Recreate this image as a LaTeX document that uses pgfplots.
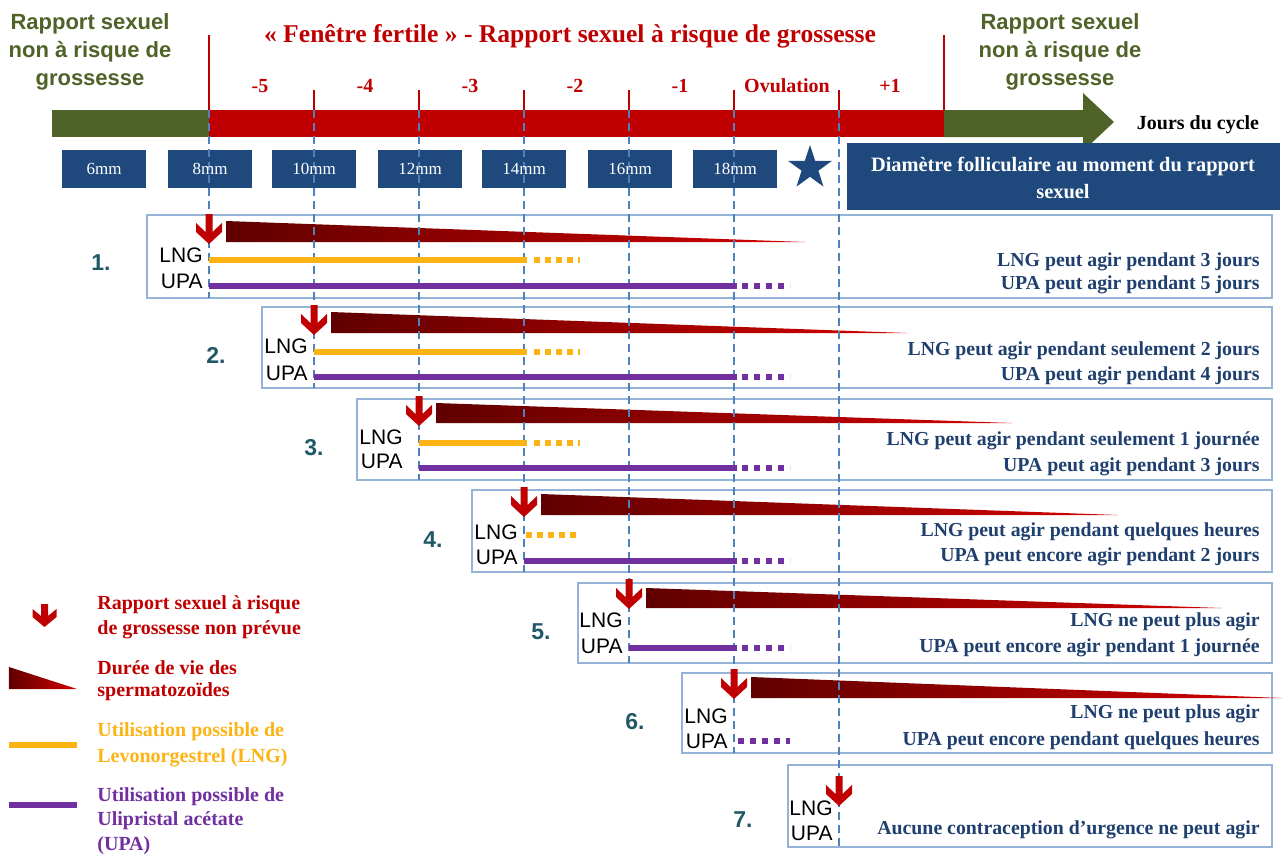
\documentclass[border=0pt]{standalone}
\usepackage{pgfplots}
\pgfplotsset{compat=1.18}
\usepackage{fontspec}
\setmainfont{Liberation Serif}
\newfontfamily\arial{Liberation Sans}
\definecolor{dred}{HTML}{C00000}
\definecolor{dgreen}{HTML}{4F6228}
\definecolor{navybox}{HTML}{1F497D}
\definecolor{rowtxt}{HTML}{1F3F6E}
\definecolor{numc}{HTML}{215868}
\definecolor{yel}{HTML}{FBB414}
\definecolor{purp}{HTML}{7030A0}
\definecolor{dashc}{HTML}{4F81BD}
\definecolor{boxo}{HTML}{95B3D7}
\definecolor{tridark}{HTML}{600000}
\definecolor{tribright}{HTML}{D40000}
\newcommand{\fs}[2]{\fontsize{#1}{#2}\selectfont}
\tikzset{
  lab/.style={font=\arial\fs{10.5}{12}, anchor=east, inner sep=0pt},
  num/.style={font=\arial\bfseries\fs{11.5}{13}, text=numc},
  rt/.style={font=\bfseries\fs{9.9}{11}, text=rowtxt, anchor=east, inner sep=0pt},
  lg/.style={font=\bfseries\fs{10}{11}, anchor=west, inner sep=0pt},
  day/.style={font=\bfseries\fs{10}{11}, text=dred},
  mm/.style={font=\fs{8.5}{10}, text=white},
  tri/.style={draw=none, left color=tridark, right color=tribright},
  vd/.style={dashc, line width=0.6pt, dash pattern=on 4pt off 2.5pt},
  rtick/.style={dred, line width=0.8pt},
  arr/.style={draw=none, fill=dred},
}
\begin{document}
\begin{tikzpicture}
\begin{axis}[scale only axis, width=641pt, height=427pt,
  xmin=0, xmax=1282, ymin=0, ymax=854, y dir=reverse,
  hide axis, clip=false, no markers]
% background
\addplot[draw=none, fill=white] coordinates {(0,0) (1282,0) (1282,854) (0,854)} --cycle;
% time bar
\addplot[draw=none, fill=dgreen] coordinates {(52,110) (209,110) (209,137) (52,137)} --cycle;
\addplot[draw=none, fill=dred] coordinates {(209,110) (944,110) (944,137) (209,137)} --cycle;
\addplot[draw=none, fill=dgreen] coordinates {(944,110) (1083,110) (1083,93) (1114,122) (1083,151) (1083,137) (944,137)} --cycle;
% red ticks
\addplot[rtick] coordinates {(209,35) (209,110)};
\addplot[rtick] coordinates {(944,35) (944,110)};
\addplot[rtick] coordinates {(314,90) (314,110)};
\addplot[rtick] coordinates {(419,90) (419,110)};
\addplot[rtick] coordinates {(524,90) (524,110)};
\addplot[rtick] coordinates {(629,90) (629,110)};
\addplot[rtick] coordinates {(734,90) (734,110)};
\addplot[rtick] coordinates {(839,90) (839,110)};
% mm boxes
\addplot[draw=none, fill=navybox] coordinates {(62,150) (146,150) (146,188) (62,188)} --cycle;
\addplot[draw=none, fill=navybox] coordinates {(168,150) (252,150) (252,188) (168,188)} --cycle;
\addplot[draw=none, fill=navybox] coordinates {(272,150) (356,150) (356,188) (272,188)} --cycle;
\addplot[draw=none, fill=navybox] coordinates {(378,150) (462,150) (462,188) (378,188)} --cycle;
\addplot[draw=none, fill=navybox] coordinates {(482,150) (566,150) (566,188) (482,188)} --cycle;
\addplot[draw=none, fill=navybox] coordinates {(588,150) (672,150) (672,188) (588,188)} --cycle;
\addplot[draw=none, fill=navybox] coordinates {(693,150) (777,150) (777,188) (693,188)} --cycle;
\addplot[draw=none, fill=navybox] coordinates {(847,143) (1280,143) (1280,210) (847,210)} --cycle;
% star
\addplot[draw=none, fill=navybox] coordinates {(810,145) (804.8,160.9) (788.1,160.9) (801.6,170.7) (796.5,186.6) (810,176.8) (823.5,186.6) (818.4,170.7) (831.9,160.9) (815.2,160.9)} --cycle;
% row boxes
\addplot[boxo, line width=0.75pt] coordinates {(147,215) (1272,215) (1272,298) (147,298)} --cycle;
\addplot[boxo, line width=0.75pt] coordinates {(262,307) (1272,307) (1272,388) (262,388)} --cycle;
\addplot[boxo, line width=0.75pt] coordinates {(357,399) (1272,399) (1272,480) (357,480)} --cycle;
\addplot[boxo, line width=0.75pt] coordinates {(472,490) (1272,490) (1272,572) (472,572)} --cycle;
\addplot[boxo, line width=0.75pt] coordinates {(578,583) (1272,583) (1272,663) (578,663)} --cycle;
\addplot[boxo, line width=0.75pt] coordinates {(682,673) (1272,673) (1272,753) (682,753)} --cycle;
\addplot[boxo, line width=0.75pt] coordinates {(788,765) (1272,765) (1272,847) (788,847)} --cycle;
% sperm triangles
\addplot[tri] coordinates {(226,221) (226,242) (805,242)} --cycle;
\addplot[tri] coordinates {(331,312) (331,333) (907,333)} --cycle;
\addplot[tri] coordinates {(436,403) (436,423) (1012,423)} --cycle;
\addplot[tri] coordinates {(541,494) (541,515) (1118,515)} --cycle;
\addplot[tri] coordinates {(646,588) (646,608) (1222,608)} --cycle;
\addplot[tri] coordinates {(751,677) (751,698) (1282,698)} --cycle;
\addplot[tri] coordinates {(9,667) (9,689) (77,689)} --cycle;
% dashed vertical lines
\addplot[vd] coordinates {(209,110) (209,298)};
\addplot[vd] coordinates {(314,110) (314,388)};
\addplot[vd] coordinates {(419,110) (419,480)};
\addplot[vd] coordinates {(524,110) (524,572)};
\addplot[vd] coordinates {(629,110) (629,663)};
\addplot[vd] coordinates {(734,110) (734,753)};
\addplot[vd] coordinates {(839,110) (839,847)};
% LNG lines
\addplot[yel, line width=3pt] coordinates {(209,260) (527,260)};
\addplot[yel, line width=3pt, dash pattern=on 3pt off 2.5pt] coordinates {(534,260) (580,260)};
\addplot[yel, line width=3pt] coordinates {(314,352) (527,352)};
\addplot[yel, line width=3pt, dash pattern=on 3pt off 2.5pt] coordinates {(534,352) (580,352)};
\addplot[yel, line width=3pt] coordinates {(419,443) (527,443)};
\addplot[yel, line width=3pt, dash pattern=on 3pt off 2.5pt] coordinates {(534,443) (580,443)};
\addplot[yel, line width=3pt, dash pattern=on 3pt off 2.5pt] coordinates {(526,535) (580,535)};
% UPA lines
\addplot[purp, line width=3pt] coordinates {(209,286) (737,286)};
\addplot[purp, line width=3pt, dash pattern=on 3pt off 3pt] coordinates {(742,286) (790,286)};
\addplot[purp, line width=3pt] coordinates {(314,377) (737,377)};
\addplot[purp, line width=3pt, dash pattern=on 3pt off 3pt] coordinates {(742,377) (790,377)};
\addplot[purp, line width=3pt] coordinates {(419,468) (737,468)};
\addplot[purp, line width=3pt, dash pattern=on 3pt off 3pt] coordinates {(742,468) (790,468)};
\addplot[purp, line width=3pt] coordinates {(524,561) (737,561)};
\addplot[purp, line width=3pt, dash pattern=on 3pt off 3pt] coordinates {(742,561) (790,561)};
\addplot[purp, line width=3pt] coordinates {(629,648) (737,648)};
\addplot[purp, line width=3pt, dash pattern=on 3pt off 3pt] coordinates {(742,648) (790,648)};
\addplot[purp, line width=3pt, dash pattern=on 3pt off 3pt] coordinates {(738,741) (790,741)};
% legend lines
\addplot[yel, line width=3pt] coordinates {(9,745) (77,745)};
\addplot[purp, line width=3pt] coordinates {(9,805) (77,805)};
% red arrows
\addplot[arr] coordinates {(205.5,214) (212.5,214) (212.5,232) (222,223) (222,232) (209,244) (196,232) (196,223) (205.5,232)} --cycle;
\addplot[arr] coordinates {(310.5,305) (317.5,305) (317.5,323) (327,314) (327,323) (314,335) (301,323) (301,314) (310.5,323)} --cycle;
\addplot[arr] coordinates {(415.5,396) (422.5,396) (422.5,414) (432,405) (432,414) (419,426) (406,414) (406,405) (415.5,414)} --cycle;
\addplot[arr] coordinates {(520.5,487) (527.5,487) (527.5,505) (537,496) (537,505) (524,517) (511,505) (511,496) (520.5,505)} --cycle;
\addplot[arr] coordinates {(625.5,579) (632.5,579) (632.5,597) (642,588) (642,597) (629,609) (616,597) (616,588) (625.5,597)} --cycle;
\addplot[arr] coordinates {(730.5,669) (737.5,669) (737.5,687) (747,678) (747,687) (734,699) (721,687) (721,678) (730.5,687)} --cycle;
\addplot[arr] coordinates {(835.5,776) (842.5,776) (842.5,794) (852,785) (852,794) (839,806) (826,794) (826,785) (835.5,794)} --cycle;
\addplot[arr] coordinates {(41,604) (48,604) (48,616) (56.5,609) (56.5,617) (44.5,627) (32.5,617) (32.5,609) (41,616)} --cycle;
% ---------- texts ----------
\node[font=\arial\bfseries\fs{11}{14}, text=dgreen, align=center] at (90,52) {Rapport sexuel\\non à risque de\\grossesse};
\node[font=\arial\bfseries\fs{11}{14}, text=dgreen, align=center] at (1060,52) {Rapport sexuel\\non à risque de\\grossesse};
\node[font=\bfseries\fs{12.8}{14}, text=dred] at (570,36) {« Fenêtre fertile » - Rapport sexuel à risque de grossesse};
\node[day] at (260,86) {-5};
\node[day] at (365,86) {-4};
\node[day] at (470,86) {-3};
\node[day] at (575,86) {-2};
\node[day] at (680,86) {-1};
\node[day] at (787,86) {Ovulation};
\node[day] at (890,86) {+1};
\node[font=\bfseries\fs{10}{11}, text=black] at (1198,125) {Jours du cycle};
\node[mm] at (104,169) {6mm};
\node[mm] at (210,169) {8mm};
\node[mm] at (314,169) {10mm};
\node[mm] at (420,169) {12mm};
\node[mm] at (524,169) {14mm};
\node[mm] at (630,169) {16mm};
\node[mm] at (735,169) {18mm};
\node[font=\bfseries\fs{10.2}{13.5}, text=white, align=center] at (1063,178) {Diamètre folliculaire au moment du rapport\\sexuel};
% LNG / UPA labels
\node[lab] at (203,255) {LNG}; \node[lab] at (203,281) {UPA};
\node[lab] at (308,346) {LNG}; \node[lab] at (308,373) {UPA};
\node[lab] at (403,437) {LNG}; \node[lab] at (403,461) {UPA};
\node[lab] at (518,532) {LNG}; \node[lab] at (518,557) {UPA};
\node[lab] at (623,620) {LNG}; \node[lab] at (623,646) {UPA};
\node[lab] at (728,716) {LNG}; \node[lab] at (728,741) {UPA};
\node[lab] at (833,808) {LNG}; \node[lab] at (833,833) {UPA};
% numbers
\node[num] at (101,263) {1.};
\node[num] at (216,355) {2.};
\node[num] at (314,448) {3.};
\node[num] at (433,540) {4.};
\node[num] at (541,632) {5.};
\node[num] at (635,722) {6.};
\node[num] at (743,820) {7.};
% row texts
\node[rt] at (1260,262) {LNG peut agir pendant 3 jours};
\node[rt] at (1260,285) {UPA peut agir pendant 5 jours};
\node[rt] at (1260,351) {LNG peut agir pendant seulement 2 jours};
\node[rt] at (1260,376) {UPA peut agir pendant 4 jours};
\node[rt] at (1260,441) {LNG peut agir pendant seulement 1 journée};
\node[rt] at (1260,467) {UPA peut agit pendant 3 jours};
\node[rt] at (1260,532) {LNG peut agir pendant quelques heures};
\node[rt] at (1260,557) {UPA peut encore agir pendant 2 jours};
\node[rt] at (1260,622) {LNG ne peut plus agir};
\node[rt] at (1260,648) {UPA peut encore agir pendant 1 journée};
\node[rt] at (1260,714) {LNG ne peut plus agir};
\node[rt] at (1260,741) {UPA peut encore pendant quelques heures};
\node[rt] at (1260,830) {Aucune contraception d’urgence ne peut agir};
% legend texts
\node[lg, text=dred] at (97,605) {Rapport sexuel à risque};
\node[lg, text=dred] at (97,630) {de grossesse non prévue};
\node[lg, text=dred] at (97,668) {Durée de vie des};
\node[lg, text=dred] at (97,692) {spermatozoïdes};
\node[lg, text=yel] at (97,732) {Utilisation possible de};
\node[lg, text=yel] at (97,758) {Levonorgestrel (LNG)};
\node[lg, text=purp] at (97,797) {Utilisation possible de};
\node[lg, text=purp] at (97,821) {Ulipristal acétate};
\node[lg, text=purp] at (97,846) {(UPA)};
\end{axis}
\end{tikzpicture}
\end{document}
